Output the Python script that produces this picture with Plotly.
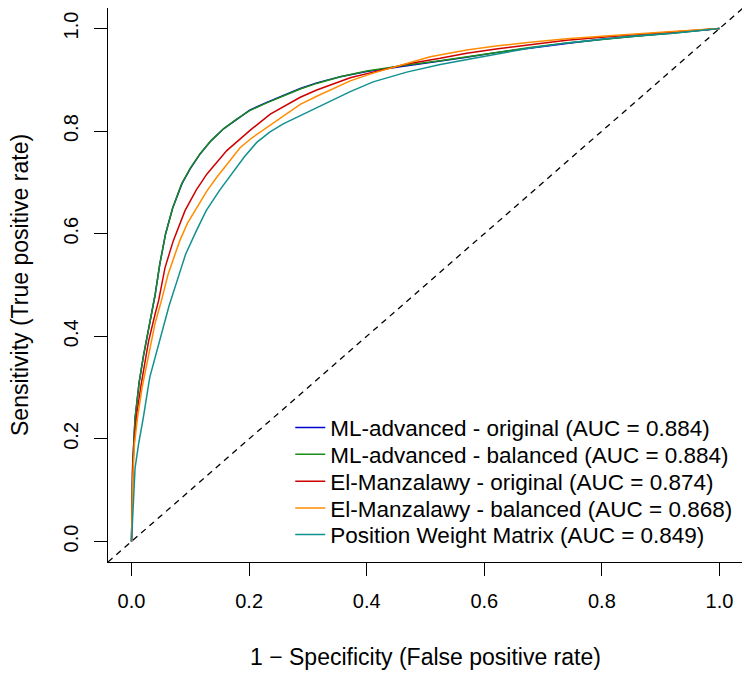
import plotly.graph_objects as go

# ROC curve points (false positive rate, true positive rate)
ml_orig_fpr = [0, 0.002, 0.006, 0.013, 0.020, 0.030, 0.040, 0.048, 0.058, 0.070, 0.086, 0.100, 0.117,
               0.135, 0.157, 0.178, 0.201, 0.230, 0.258, 0.287, 0.315, 0.355, 0.400, 0.468, 0.525,
               0.570, 0.620, 0.678, 0.740, 0.800, 0.848, 0.920, 1.0]
ml_orig_tpr = [0, 0.15, 0.24, 0.31, 0.36, 0.42, 0.48, 0.54, 0.60, 0.65, 0.698, 0.727, 0.756,
               0.781, 0.805, 0.822, 0.841, 0.856, 0.870, 0.883, 0.894, 0.906, 0.916, 0.927, 0.936,
               0.944, 0.953, 0.962, 0.971, 0.979, 0.984, 0.991, 1.0]

ml_bal_fpr = [0, 0.002, 0.006, 0.013, 0.020, 0.030, 0.040, 0.048, 0.058, 0.070, 0.085, 0.100, 0.116,
              0.135, 0.156, 0.178, 0.201, 0.230, 0.258, 0.287, 0.315, 0.355, 0.400, 0.468, 0.525,
              0.570, 0.620, 0.678, 0.740, 0.800, 0.848, 0.920, 1.0]
ml_bal_tpr = [0, 0.15, 0.24, 0.31, 0.36, 0.42, 0.48, 0.54, 0.60, 0.65, 0.697, 0.728, 0.755,
              0.781, 0.804, 0.823, 0.840, 0.855, 0.869, 0.882, 0.893, 0.906, 0.917, 0.929, 0.937,
              0.945, 0.954, 0.963, 0.972, 0.979, 0.984, 0.991, 1.0]

em_orig_fpr = [0, 0.002, 0.005, 0.009, 0.017, 0.029, 0.040, 0.046, 0.057, 0.071, 0.091, 0.110, 0.128,
               0.145, 0.162, 0.185, 0.201, 0.236, 0.260, 0.287, 0.315, 0.343, 0.372, 0.411, 0.468,
               0.525, 0.570, 0.620, 0.678, 0.740, 0.800, 0.848, 0.920, 1.0]
em_orig_tpr = [0, 0.14, 0.20, 0.25, 0.31, 0.39, 0.443, 0.469, 0.534, 0.586, 0.645, 0.685, 0.716,
               0.740, 0.762, 0.785, 0.801, 0.833, 0.848, 0.866, 0.880, 0.892, 0.904, 0.915, 0.931,
               0.942, 0.952, 0.960, 0.968, 0.977, 0.983, 0.987, 0.992, 1.0]

em_bal_fpr = [0, 0.002, 0.005, 0.010, 0.018, 0.031, 0.040, 0.051, 0.062, 0.074, 0.082, 0.095, 0.111,
              0.128, 0.145, 0.165, 0.185, 0.205, 0.230, 0.258, 0.287, 0.315, 0.343, 0.372, 0.411,
              0.468, 0.508, 0.570, 0.620, 0.678, 0.740, 0.800, 0.848, 0.920, 1.0]
em_bal_tpr = [0, 0.12, 0.19, 0.24, 0.30, 0.378, 0.425, 0.470, 0.52, 0.56, 0.586, 0.62, 0.651,
              0.683, 0.710, 0.740, 0.768, 0.787, 0.807, 0.830, 0.852, 0.868, 0.882, 0.898, 0.913,
              0.932, 0.945, 0.958, 0.966, 0.973, 0.980, 0.985, 0.989, 0.994, 1.0]

pwm_fpr = [0, 0.002, 0.004, 0.006, 0.012, 0.020, 0.031, 0.044, 0.064, 0.078, 0.092, 0.110, 0.127,
           0.150, 0.170, 0.192, 0.213, 0.235, 0.258, 0.287, 0.315, 0.343, 0.372, 0.411, 0.468,
           0.525, 0.570, 0.620, 0.678, 0.740, 0.800, 0.848, 0.920, 1.0]
pwm_tpr = [0, 0.06, 0.10, 0.143, 0.19, 0.241, 0.32, 0.375, 0.46, 0.51, 0.56, 0.605, 0.645,
           0.685, 0.716, 0.750, 0.778, 0.798, 0.814, 0.830, 0.846, 0.862, 0.877, 0.896, 0.915,
           0.930, 0.940, 0.950, 0.962, 0.972, 0.979, 0.985, 0.991, 1.0]

names = ["ML-advanced - original (AUC = 0.884)",
         "ML-advanced - balanced (AUC = 0.884)",
         "El-Manzalawy - original (AUC = 0.874)",
         "El-Manzalawy - balanced (AUC = 0.868)",
         "Position Weight Matrix (AUC = 0.849)"]
colors = ["#0000CD", "#1A8C1A", "#CD0000", "#FF8C00", "#129090"]
curves = [(ml_orig_fpr, ml_orig_tpr), (ml_bal_fpr, ml_bal_tpr), (em_orig_fpr, em_orig_tpr),
          (em_bal_fpr, em_bal_tpr), (pwm_fpr, pwm_tpr)]

diag = [-0.04, 1.04]
ticks = [0.0, 0.2, 0.4, 0.6, 0.8, 1.0]
tick_text = ["0.0", "0.2", "0.4", "0.6", "0.8", "1.0"]

font = "Liberation Sans, Arial, Helvetica, sans-serif"

fig = go.Figure()

# chance line
fig.add_trace(go.Scatter(x=diag, y=diag, mode="lines", showlegend=False,
                         line=dict(color="black", width=1.3, dash="6px,5px"), hoverinfo="skip"))

# one legend per curve so the rows can sit as tight as R's legend()
legend_ids = ["legend", "legend2", "legend3", "legend4", "legend5"]
for (fpr, tpr), name, col, lg in zip(curves, names, colors, legend_ids):
    fig.add_trace(go.Scatter(x=fpr, y=tpr, mode="lines", name=name, legend=lg,
                             line=dict(color=col, width=1.5)))

axis_common = dict(
    showgrid=False, zeroline=False, showline=True, mirror=True,
    linecolor="black", linewidth=1.3, ticks="outside", ticklen=13,
    tickwidth=1.3, tickcolor="black", tickvals=ticks, ticktext=tick_text,
    range=[-0.04, 1.04], tickfont=dict(size=20, color="black"),
    ticklabelstandoff=8, automargin=False,
)

# page body adds an 8px offset, so the figure is a bit smaller than the window
fig.update_layout(
    width=742, height=666,
    margin=dict(l=100, r=7, t=0, b=112),
    plot_bgcolor="white", paper_bgcolor="white",
    font=dict(family=font, size=20, color="black"),
    xaxis=axis_common,
    yaxis=dict(axis_common, tickangle=-90),
    showlegend=True,
)

row_y = [0.242, 0.194, 0.145, 0.097, 0.049]
for lg, yy in zip(legend_ids, row_y):
    fig.update_layout({lg: dict(x=0.287, y=yy, xanchor="left", yanchor="middle",
                                bgcolor="rgba(0,0,0,0)", font=dict(size=22.5),
                                itemwidth=30)})

# axis titles placed like base R (mtext lines)
fig.add_annotation(text="1 − Specificity (False positive rate)", xref="paper", yref="paper",
                   x=0.5, y=0, xanchor="center", yanchor="middle", yshift=-95,
                   showarrow=False, font=dict(size=23))
fig.add_annotation(text="Sensitivity (True positive rate)", xref="paper", yref="paper",
                   x=0, y=0.5, xanchor="center", yanchor="middle", xshift=-88, textangle=-90,
                   showarrow=False, font=dict(size=23))

fig.write_html("out.html")
